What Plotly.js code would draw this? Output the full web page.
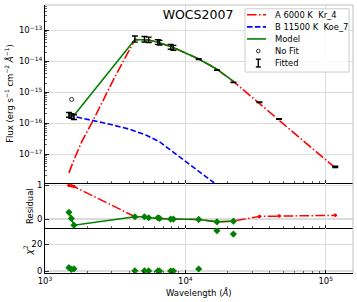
<!DOCTYPE html>
<html><head><meta charset="utf-8">
<script src="https://cdn.plot.ly/plotly-3.0.1.min.js"></script>
<style>html,body{margin:0;padding:0;background:#fff}#chart{width:357px;height:302px}</style>
</head><body><div id="chart"></div>
<script>
// ---- data ----
const titleText = 'WOCS2007';
const seriesNames = ['A 6000 K\u00a0 Kr_4', 'B 11500 K\u00a0 Koe_7', 'Model', 'No Fit', 'Fitted'];

// observed photometry (fitted points, black error bars)
const obsWave = [1481, 1541, 1608, 4370, 5110, 5480, 6370, 6550, 7860, 8220, 12450, 16800, 22000, 33700, 46500, 117000];
const obsFlux = [1.9e-16, 1.75e-16, 1.6e-16, 5.4e-14, 5.3e-14, 5.1e-14, 4.3e-14, 4.1e-14, 3.0e-14, 2.8e-14, 1.19e-14, 5.2e-15, 2.1e-15, 4.75e-16, 1.38e-16, 3.9e-18];
const obsErr  = [3.3e-17, 3.0e-17, 2.8e-17, 1.2e-14, 1.05e-14, 1.0e-14, 7.5e-15, 7.0e-15, 5.4e-15, 5.0e-15, 3.6e-16, 8e-17, 3e-17, 1e-17, 3e-18, 2e-19];

// point not used in the fit
const noFitWave = [1549];
const noFitFlux = [5.9e-16];

// component A (6000 K)
const aWave = [1481, 1541, 1608, 1832, 2204, 3058, 4370, 5110, 5480, 6370, 6550, 7860, 8220, 12450, 16800, 22000, 33700, 46500, 117000];
const aFlux = [2.5e-18, 4.0e-18, 6.6e-18, 2.6e-17, 1.25e-16, 2.45e-15, 5.05e-14, 4.98e-14, 4.88e-14, 4.13e-14, 3.98e-14, 2.99e-14, 2.79e-14, 1.2e-14, 5.6e-15, 2.25e-15, 4.4e-16, 1.27e-16, 3.6e-18];

// component B (11500 K)
const bWave = [1481, 2203, 2897, 4018, 5284, 6563, 8158, 10164, 12641, 15713, 16800];
const bFlux = [1.81e-16, 1.25e-16, 9.3e-17, 6.4e-17, 4.1e-17, 2.5e-17, 1.19e-17, 5.65e-18, 2.69e-18, 1.28e-18, 9.2e-19];

// combined model at fitted points
const modelWave = [1481, 1541, 1608, 4370, 5110, 5480, 6370, 6550, 7860, 8220, 12450, 16800, 22000];
const modelFlux = [1.8e-16, 1.8e-16, 1.8e-16, 5.1e-14, 5.0e-14, 4.9e-14, 4.15e-14, 4.0e-14, 3.0e-14, 2.8e-14, 1.2e-14, 5.6e-15, 2.25e-15];

// residuals
const residModel = [0.2, 0.02, -0.18, 0.07, 0.07, 0.04, 0.04, 0.02, 0.0, 0.0, -0.01, -0.08, -0.06];
const residA = [0.99, 0.98, 0.96, 0.07, 0.07, 0.04, 0.04, 0.02, 0.0, 0.0, -0.01, -0.08, -0.06, 0.08, 0.09, 0.11];

// chi-square per fitted point
const chi2 = [2.5, 1.2, 1.6, 0.1, 0.1, 0.05, 0.05, 0.02, 0, 0, 1.5, 30.2, 27.7];

// tick labels
const xTickVals = [1e3, 1e4, 1e5];
const xTickText = ['10<sup>3</sup>', '10<sup>4</sup>', '10<sup>5</sup>'];
const yTickVals = [1e-17, 1e-16, 1e-15, 1e-14, 1e-13];
const yTickText = ['10<sup>\u221217</sup>', '10<sup>\u221216</sup>', '10<sup>\u221215</sup>', '10<sup>\u221214</sup>', '10<sup>\u221213</sup>'];
const resTickVals = [0, 1];
const resTickText = ['0', '1'];
const chiTickVals = [0, 20];
const chiTickText = ['0', '20'];

// ---- styling ----
const RED = '#ff0000', BLUE = '#0000ff', GREEN = '#008000';
const DASHDOT = '9.6px,2.4px,1.5px,2.4px';
const DASH = '5.5px,2.4px';
const FONT = 'DejaVu Sans';
const GRID = '#dcdcdc';

const traces = [
  {x: aWave, y: aFlux, xaxis: 'x', yaxis: 'y', mode: 'lines', name: seriesNames[0],
   line: {color: RED, width: 1.6, dash: DASHDOT}},
  {x: bWave, y: bFlux, xaxis: 'x', yaxis: 'y', mode: 'lines', name: seriesNames[1],
   line: {color: BLUE, width: 1.6, dash: DASH}},
  {x: modelWave, y: modelFlux, xaxis: 'x', yaxis: 'y', mode: 'lines', name: seriesNames[2],
   line: {color: GREEN, width: 1.6}},
  {x: noFitWave, y: noFitFlux, xaxis: 'x', yaxis: 'y', mode: 'markers', name: seriesNames[3],
   marker: {symbol: 'circle-open', size: 4, color: 'black', line: {width: 0.8, color: 'black'}}},
  {x: obsWave, y: obsFlux, xaxis: 'x', yaxis: 'y', mode: 'markers', name: seriesNames[4],
   marker: {size: 1, color: 'black'},
   error_y: {type: 'data', array: obsErr, visible: true, color: 'black', thickness: 1.4, width: 3}},
  // residual panel
  {x: obsWave, y: residA, xaxis: 'x2', yaxis: 'y2', mode: 'lines+markers',
   line: {color: RED, width: 1.5, dash: DASHDOT}, marker: {color: RED, size: 3.5}},
  {x: modelWave, y: residModel, xaxis: 'x2', yaxis: 'y2', mode: 'lines+markers',
   line: {color: GREEN, width: 1.5}, marker: {color: GREEN, size: 5.5, symbol: 'diamond'}},
  // chi2 panel
  {x: modelWave, y: chi2, xaxis: 'x3', yaxis: 'y3', mode: 'markers',
   marker: {color: GREEN, size: 5.5, symbol: 'diamond'}}
];

// geometry helpers (pixel -> paper), plot area x 45..353, y 4.5..273
const L = 45, R = 4, T = 4.5, B = 29, W = 357, H = 302;
const PW = W - L - R, PH = H - T - B;
const px = v => (v - L) / PW;
const py = v => (H - B - v) / PH;

function xAxis(anchor, labels) {
  return {
    type: 'log', range: [3, 5.1945], anchor: anchor,
    showline: true, linecolor: 'black', linewidth: 1,
    ticks: 'inside', ticklen: 3.5, tickwidth: 0.8, tickcolor: 'black',
    tickmode: 'array', tickvals: xTickVals, ticktext: xTickText,
    showticklabels: labels, tickfont: {size: 8.5, color: 'black', family: FONT},
    showgrid: true, gridcolor: GRID, gridwidth: 1.3, zeroline: false,
    minor: {ticks: 'inside', ticklen: 2, tickwidth: 0.6, tickcolor: 'black', dtick: 'D1', showgrid: false}
  };
}

const legendRows = [14.3, 26.4, 38.5, 50.6, 62.7];
const shapes = [
  {type: 'line', xref: 'paper', yref: 'paper', x0: 0, x1: 1, y0: 1, y1: 1, line: {color: '#bfbfbf', width: 1}, layer: 'above'},
  {type: 'line', xref: 'paper', yref: 'paper', x0: 1, x1: 1, y0: 0, y1: 1, line: {color: '#bfbfbf', width: 1}, layer: 'above'},
  {type: 'rect', xref: 'paper', yref: 'paper', x0: px(245), x1: px(349), y0: py(8.3), y1: py(71.7),
   fillcolor: 'rgba(255,255,255,0.85)', line: {color: '#cccccc', width: 1}, layer: 'above'},
  {type: 'line', xref: 'paper', yref: 'paper', x0: px(247), x1: px(266), y0: py(legendRows[0]), y1: py(legendRows[0]),
   line: {color: RED, width: 1.6, dash: DASHDOT}, layer: 'above'},
  {type: 'line', xref: 'paper', yref: 'paper', x0: px(247), x1: px(266), y0: py(legendRows[1]), y1: py(legendRows[1]),
   line: {color: BLUE, width: 1.6, dash: DASH}, layer: 'above'},
  {type: 'line', xref: 'paper', yref: 'paper', x0: px(247), x1: px(266), y0: py(legendRows[2]), y1: py(legendRows[2]),
   line: {color: GREEN, width: 1.6}, layer: 'above'},
  {type: 'circle', xref: 'paper', yref: 'paper', x0: px(256.5), x1: px(260.1), y0: py(legendRows[3] - 1.8), y1: py(legendRows[3] + 1.8),
   line: {color: 'black', width: 0.8}, layer: 'above'},
  {type: 'line', xref: 'paper', yref: 'paper', x0: px(258.3), x1: px(258.3), y0: py(legendRows[4] - 3.9), y1: py(legendRows[4] + 3.9),
   line: {color: 'black', width: 1.4}, layer: 'above'},
  {type: 'line', xref: 'paper', yref: 'paper', x0: px(255.8), x1: px(260.8), y0: py(legendRows[4] - 3.9), y1: py(legendRows[4] - 3.9),
   line: {color: 'black', width: 1.4}, layer: 'above'},
  {type: 'line', xref: 'paper', yref: 'paper', x0: px(255.8), x1: px(260.8), y0: py(legendRows[4] + 3.9), y1: py(legendRows[4] + 3.9),
   line: {color: 'black', width: 1.4}, layer: 'above'}
];

const annotations = seriesNames.map((n, i) => ({
  text: n, xref: 'paper', yref: 'paper', x: px(272.5), y: py(legendRows[i]),
  xanchor: 'left', yanchor: 'middle', showarrow: false, font: {size: 8.4, color: 'black', family: FONT}
}));
annotations.push(
  {text: 'Flux (erg s<sup>\u22121</sup> cm<sup>\u22122</sup> <i>\u00c5</i><sup>\u22121</sup>)', xref: 'paper', yref: 'paper',
   x: px(9.5), y: py(93), textangle: -90, xanchor: 'center', yanchor: 'middle', showarrow: false,
   font: {size: 8.5, color: 'black', family: FONT}},
  {text: 'Residual', xref: 'paper', yref: 'paper', x: px(30), y: py(206), textangle: -90,
   xanchor: 'center', yanchor: 'middle', showarrow: false, font: {size: 8.5, color: 'black', family: FONT}},
  {text: '<i>\u03c7</i><sup>2</sup>', xref: 'paper', yref: 'paper', x: px(28), y: py(250.5), textangle: -90,
   xanchor: 'center', yanchor: 'middle', showarrow: false, font: {size: 9, color: 'black', family: FONT}},
  {text: 'Wavelength (<i>\u00c5</i>)', xref: 'paper', yref: 'paper', x: px(199), y: py(292.5),
   xanchor: 'center', yanchor: 'middle', showarrow: false, font: {size: 8.5, color: 'black', family: FONT}}
);

const layout = {
  width: W, height: H,
  margin: {l: L, r: R, t: T, b: B, pad: 0},
  paper_bgcolor: 'white', plot_bgcolor: 'white',
  font: {family: FONT, size: 8.5, color: 'black'},
  showlegend: false,
  title: {text: titleText, x: 198 / W, y: 1 - 14.2 / H, xanchor: 'center', yanchor: 'middle',
          xref: 'container', yref: 'container', font: {size: 12.5, color: 'black', family: FONT}},
  xaxis: xAxis('y', false),
  xaxis2: Object.assign(xAxis('y2', false), {matches: 'x'}),
  xaxis3: Object.assign(xAxis('y3', true), {matches: 'x'}),
  yaxis: {
    type: 'log', domain: [py(183), 1], range: [-17.935, -12.177],
    showline: true, linecolor: 'black', linewidth: 1,
    ticks: 'inside', ticklen: 3.5, tickwidth: 0.8, tickcolor: 'black',
    tickmode: 'array', tickvals: yTickVals, ticktext: yTickText,
    tickfont: {size: 8.5, color: 'black', family: FONT},
    showgrid: true, gridcolor: GRID, gridwidth: 1.3, zeroline: false,
    minor: {ticks: 'inside', ticklen: 2, tickwidth: 0.6, tickcolor: 'black', dtick: 'D1', showgrid: false}
  },
  yaxis2: {
    domain: [py(228), py(183)], range: [-0.265, 1.059],
    showline: true, linecolor: 'black', linewidth: 1,
    ticks: 'inside', ticklen: 3.5, tickwidth: 0.8, tickcolor: 'black',
    tickmode: 'array', tickvals: resTickVals, ticktext: resTickText,
    tickfont: {size: 8.5, color: 'black', family: FONT},
    showgrid: true, gridcolor: GRID, gridwidth: 1.3, zeroline: false
  },
  yaxis3: {
    domain: [0, py(228)], range: [-1.5, 32.2],
    showline: true, linecolor: 'black', linewidth: 1,
    ticks: 'inside', ticklen: 3.5, tickwidth: 0.8, tickcolor: 'black',
    tickmode: 'array', tickvals: chiTickVals, ticktext: chiTickText,
    tickfont: {size: 8.5, color: 'black', family: FONT},
    showgrid: true, gridcolor: GRID, gridwidth: 1.3, zeroline: false
  },
  shapes: shapes,
  annotations: annotations
};

Plotly.newPlot('chart', traces, layout, {staticPlot: true, displayModeBar: false});
</script></body></html>
